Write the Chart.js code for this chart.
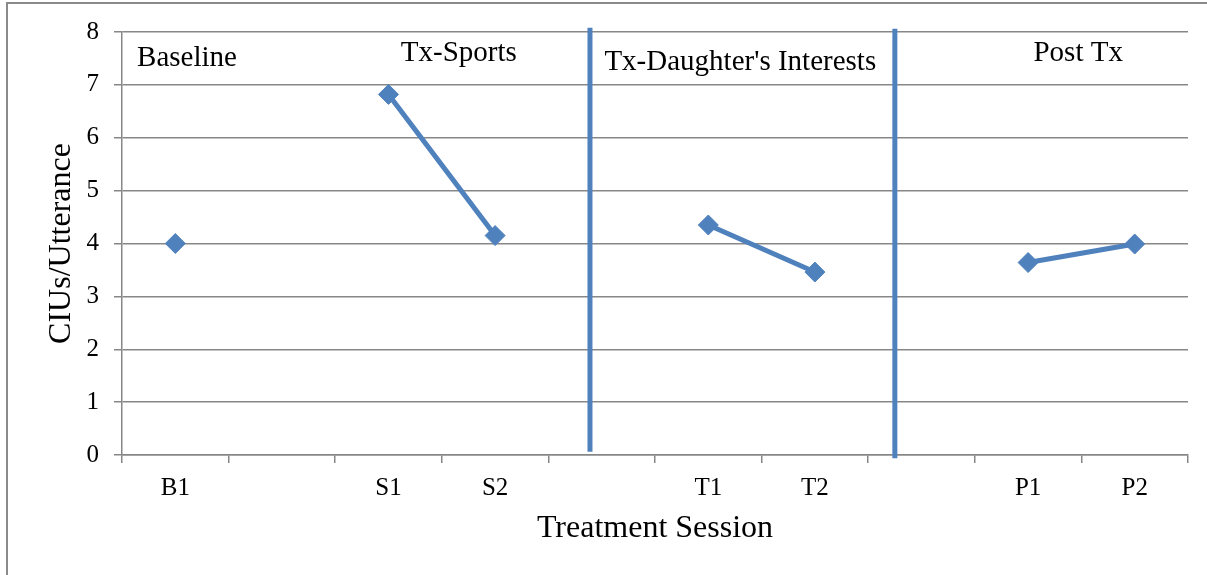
<!DOCTYPE html>
<html>
<head>
<meta charset="utf-8">
<script src="https://cdn.jsdelivr.net/npm/chart.js@4.4.0/dist/chart.umd.min.js"></script>
<style>
  html, body { margin: 0; padding: 0; background: #fff; }
</style>
</head>
<body>
<canvas id="grafico" width="1207" height="575"></canvas>
<script>
// dados
const sessoes = ['B1', '', 'S1', 'S2', '', 'T1', 'T2', '', 'P1', 'P2']
const cius = [4.0, null, 6.82, 4.15, null, 4.35, 3.46, null, 3.64, 3.99]
const yTicks = [0, 1, 2, 3, 4, 5, 6, 7, 8]
const fases = ['Baseline', 'Tx-Sports', "Tx-Daughter's Interests", 'Post Tx']

// layout (unidades das escalas): onde ficam os nomes das fases e as barras divisorias
const posFases = [[0.11, 7.36], [2.66, 7.45], [5.30, 7.28], [8.47, 7.45]]
const divisoes = [[3.89, 8.08, 0.06], [6.75, 8.06, -0.06]]

const azul = '#4F81BD'
const cinza = '#878787'
const fonte = 'Liberation Serif'

Chart.defaults.font.family = fonte

const extras = {
  id: 'extras',
  beforeDraw(chart) {
    // moldura externa (so esquerda e topo aparecem)
    const ctx = chart.ctx
    ctx.save()
    ctx.strokeStyle = '#8a8a8a'
    ctx.lineWidth = 2
    ctx.beginPath()
    ctx.moveTo(7, chart.height)
    ctx.lineTo(7, 3)
    ctx.lineTo(chart.width, 3)
    ctx.stroke()
    ctx.restore()
  },
  afterDatasetsDraw(chart) {
    const {ctx, scales: {x, y}} = chart
    ctx.save()
    ctx.strokeStyle = azul
    ctx.lineWidth = 5
    for (const [d, topo, base] of divisoes) {
      const px = x.getPixelForValue(d)
      ctx.beginPath()
      ctx.moveTo(px, y.getPixelForValue(topo))
      ctx.lineTo(px, y.getPixelForValue(base))
      ctx.stroke()
    }
    ctx.fillStyle = '#000'
    ctx.font = '29px "' + fonte + '"'
    ctx.textAlign = 'center'
    ctx.textBaseline = 'alphabetic'
    fases.forEach((f, i) => {
      const [vx, vy] = posFases[i]
      ctx.fillText(f, x.getPixelForValue(vx), y.getPixelForValue(vy))
    })
    ctx.restore()
  }
}

new Chart(document.getElementById('grafico'), {
  type: 'line',
  data: {
    labels: sessoes,
    datasets: [{
      data: cius,
      borderColor: azul,
      backgroundColor: azul,
      borderWidth: 5,
      pointStyle: 'rectRot',
      pointRadius: 10,
      pointBorderWidth: 1,
      pointBorderColor: azul,
      pointBackgroundColor: azul,
      spanGaps: false,
      tension: 0
    }]
  },
  options: {
    responsive: false,
    animation: false,
    layout: { padding: { top: 32, right: 19, left: 0, bottom: 0 } },
    plugins: { legend: { display: false }, tooltip: { enabled: false } },
    scales: {
      x: {
        offset: true,
        grid: { offset: true, drawOnChartArea: false, drawTicks: true, tickLength: 8, color: cinza, lineWidth: 1.5 },
        border: { color: cinza, width: 1.5 },
        ticks: { color: '#000', font: { size: 25 }, padding: 10, autoSkip: false, maxRotation: 0 },
        title: { display: true, text: 'Treatment Session', color: '#000', font: { size: 32 }, padding: { top: 0, bottom: 27 } },
        afterFit: s => { s.height = 120 }
      },
      y: {
        min: 0,
        max: 8,
        afterBuildTicks: s => { s.ticks = yTicks.map(v => ({ value: v })) },
        grid: { color: cinza, lineWidth: 1.5, tickLength: 8 },
        border: { color: cinza, width: 1.5 },
        ticks: { color: '#000', font: { size: 25 }, padding: 15 },
        title: { display: true, text: 'CIUs/Utterance', color: '#000', font: { size: 32 }, padding: { top: 42, bottom: 0 } },
        afterFit: s => { s.width = 122 }
      }
    }
  },
  plugins: [extras]
})
</script>
</body>
</html>
